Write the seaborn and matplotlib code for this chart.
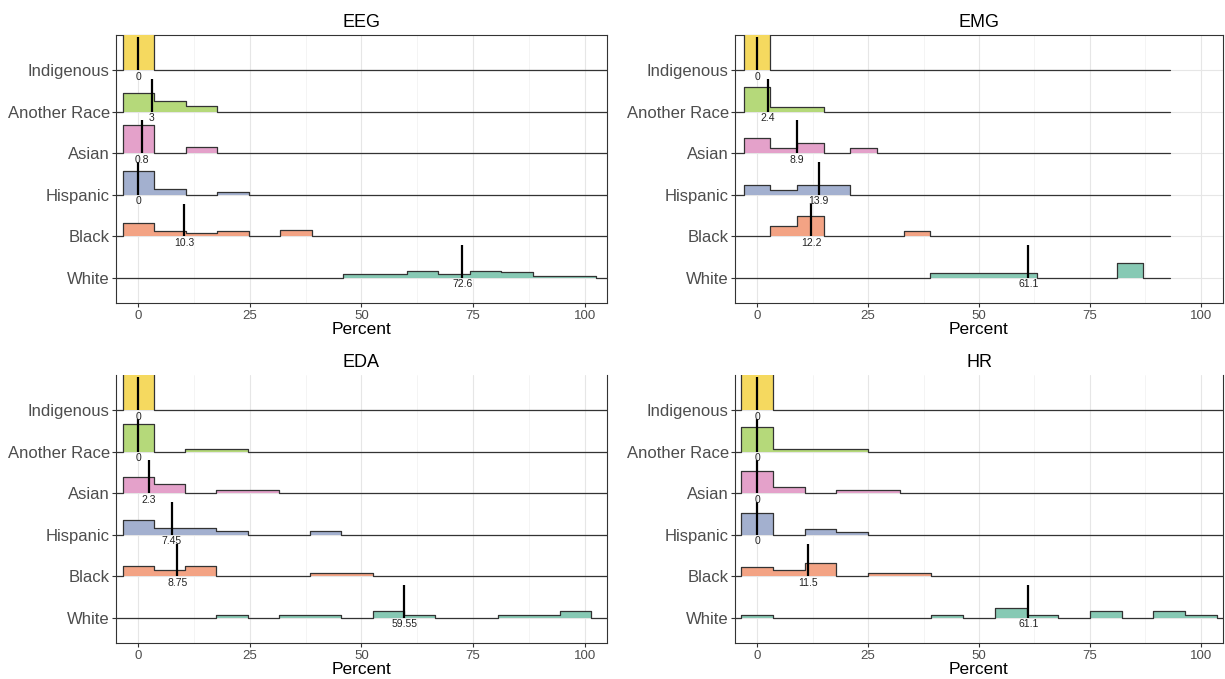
import numpy as np
import matplotlib
matplotlib.use("Agg")
import matplotlib.pyplot as plt
import seaborn as sns

# ------------------------------------------------------------------
# Data
# ------------------------------------------------------------------
# ridges from bottom to top
GROUPS = ["White", "Black", "Hispanic", "Asian", "Another Race", "Indigenous"]
PANELS = ["EEG", "EMG", "EDA", "HR"]

# upper end of each modality's data range -> 15 bins of width max/14
RANGE_MAX = {"EEG": 99, "EMG": 84, "EDA": 98, "HR": 100}
N_BINS = 15

# binned densities per group (scaled so 1.0 = ridge spacing), first bin centred on 0
eeg_heights = {
    "Indigenous": [1.0],
    "Another Race": [0.46, 0.27, 0.14],
    "Asian": [0.67, 0, 0.14],
    "Hispanic": [0.58, 0.13, 0, 0.07],
    "Black": [0.31, 0.12, 0.08, 0.13, 0, 0.14],
    "White": [0, 0, 0, 0, 0, 0, 0, 0.10, 0.10, 0.17, 0.10, 0.17, 0.14, 0.05, 0.05],
}
emg_heights = {
    "Indigenous": [1.0],
    "Another Race": [0.60, 0.12, 0.12],
    "Asian": [0.36, 0.12, 0.24, 0, 0.12],
    "Hispanic": [0.24, 0.12, 0.24, 0.24],
    "Black": [0, 0.24, 0.48, 0, 0, 0, 0.12],
    "White": [0, 0, 0, 0, 0, 0, 0, 0.12, 0.12, 0.12, 0.12, 0, 0, 0, 0.36],
}
eda_heights = {
    "Indigenous": [1.0],
    "Another Race": [0.67, 0, 0.07, 0.07],
    "Asian": [0.40, 0.23, 0, 0.07, 0.07],
    "Hispanic": [0.35, 0.17, 0.17, 0.08, 0, 0, 0.08],
    "Black": [0.24, 0.16, 0.24, 0, 0, 0, 0.08, 0.08],
    "White": [0, 0, 0, 0.07, 0, 0.07, 0.07, 0, 0.17, 0.07, 0, 0, 0.07, 0.07, 0.17],
}
hr_heights = {
    "Indigenous": [1.0],
    "Another Race": [0.60, 0.064, 0.064, 0.064],
    "Asian": [0.54, 0.145, 0, 0.072, 0.072],
    "Hispanic": [0.52, 0, 0.145, 0.07],
    "Black": [0.23, 0.14, 0.31, 0, 0.07, 0.07],
    "White": [0.07, 0, 0, 0, 0, 0, 0.07, 0, 0.23, 0.07, 0, 0.16, 0, 0.16, 0.07],
}

# medians (percent) per group
eeg_medians = {"Indigenous": 0, "Another Race": 3, "Asian": 0.8,
               "Hispanic": 0, "Black": 10.3, "White": 72.6}
emg_medians = {"Indigenous": 0, "Another Race": 2.4, "Asian": 8.9,
               "Hispanic": 13.9, "Black": 12.2, "White": 61.1}
eda_medians = {"Indigenous": 0, "Another Race": 0, "Asian": 2.3,
               "Hispanic": 7.45, "Black": 8.75, "White": 59.55}
hr_medians = {"Indigenous": 0, "Another Race": 0, "Asian": 0,
              "Hispanic": 0, "Black": 11.5, "White": 61.1}

HEIGHTS = {"EEG": eeg_heights, "EMG": emg_heights, "EDA": eda_heights, "HR": hr_heights}
MEDIANS = {"EEG": eeg_medians, "EMG": emg_medians, "EDA": eda_medians, "HR": hr_medians}

# ------------------------------------------------------------------
# Style
# ------------------------------------------------------------------
sns.set_theme(style="white")
plt.rcParams["font.family"] = ["Liberation Sans", "DejaVu Sans"]
# Set2 (White, Black, Hispanic, Asian, Another, Indigenous), faded like alpha 0.75
base_pal = np.array(sns.color_palette("Set2", 6))
palette = [tuple(np.clip((0.75 * c + 0.25) * 0.96, 0, 1)) for c in base_pal]

W, H = 1225, 679
fig = plt.figure(figsize=(W / 100, H / 100), dpi=100)

# panel boxes in pixels: left, top, right, bottom
BOXES = {
    "EEG": (116, 35, 607, 302.7),
    "EMG": (735, 35, 1223, 302.7),
    "EDA": (116, 375, 607, 642.7),
    "HR": (735, 375, 1223, 642.7),
}
DARK = "#333333"
MEDIAN_LEN = 0.79


def ridge_outline(edges, h, width):
    hp = np.concatenate([[0.0], h, [0.0]])
    pairs = np.column_stack([hp[:-1], hp[1:]]).ravel()
    xo = np.concatenate([[edges[0] - width], np.repeat(edges, 2), [edges[-1] + width]])
    yo = np.concatenate([[0.0], pairs, [0.0]])
    return xo, yo


for pi, panel in enumerate(PANELS):
    l, t, r, b = BOXES[panel]
    ax = fig.add_axes([l / W, 1 - b / H, (r - l) / W, (b - t) / H])

    width = RANGE_MAX[panel] / (N_BINS - 1)
    edges = -width / 2 + width * np.arange(N_BINS + 1)

    ax.set_xlim(-5, 105)
    ax.set_ylim(-0.6, 5.85)
    ax.set_xticks([0, 25, 50, 75, 100])
    ax.set_xticks([12.5, 37.5, 62.5, 87.5], minor=True)
    ax.set_yticks(range(len(GROUPS)))
    ax.set_yticklabels(GROUPS)
    ax.grid(True, which="major", color="#e6e6e6", lw=0.8)
    ax.grid(True, which="minor", axis="x", color="#f3f3f3", lw=0.6)
    ax.set_axisbelow(True)

    # draw from the top ridge down so lower ridges sit in front
    for gi in range(len(GROUPS) - 1, -1, -1):
        g = GROUPS[gi]
        h = np.zeros(N_BINS)
        vals = HEIGHTS[panel][g]
        h[:len(vals)] = vals
        xo, yo = ridge_outline(edges, h, width)
        ax.fill_between(xo, gi, gi + yo, color=palette[gi],
                        lw=0, zorder=3 + (5 - gi) * 3)
        ax.plot(xo, gi + yo, color=DARK, lw=0.9, zorder=4 + (5 - gi) * 3)

        med = MEDIANS[panel][g]
        ax.plot([med, med], [gi, gi + MEDIAN_LEN], color="black", lw=1.6,
                solid_capstyle="butt", zorder=5 + (5 - gi) * 3)
        ax.text(med, gi - 0.03, f"{med:g}", ha="center", va="top",
                fontsize=7.5, color="#222222", zorder=30)

    for side in ["left", "bottom", "right", "top"]:
        ax.spines[side].set_visible(True)
        ax.spines[side].set_color(DARK)
        ax.spines[side].set_linewidth(0.8)
    if pi >= 2:
        ax.spines["top"].set_visible(False)

    ax.tick_params(axis="x", which="major", length=3, width=0.8, color=DARK,
                   labelsize=9.5, labelcolor="#4d4d4d", pad=2, bottom=True)
    ax.tick_params(axis="x", which="minor", length=0)
    ax.tick_params(axis="y", length=3, width=0.8, color=DARK,
                   labelsize=12, labelcolor="#4d4d4d", pad=1.5, left=True)
    ax.set_xlabel("Percent", fontsize=12.5, color="black", labelpad=0)
    ax.set_ylabel("")
    ax.set_title(panel, fontsize=13, color="black", pad=6)

fig.savefig("out.png", dpi=100)
